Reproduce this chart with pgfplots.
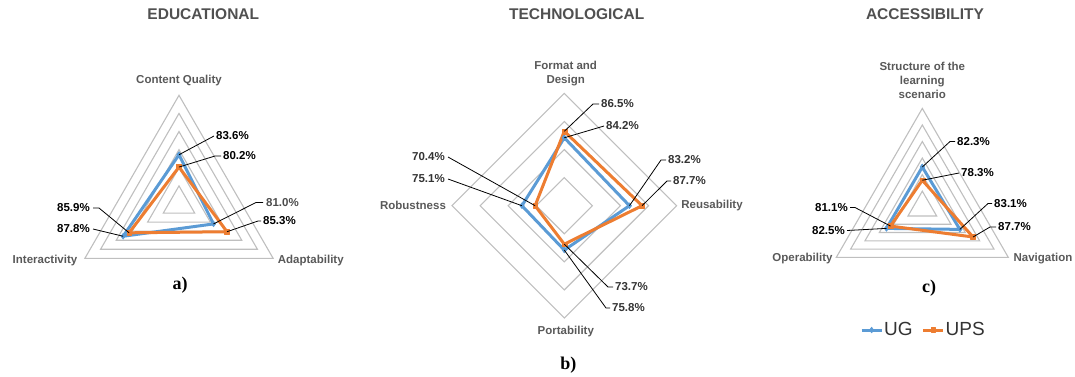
\documentclass[border=0pt]{standalone}
\usepackage{pgfplots}
\pgfplotsset{compat=1.18}
\usepgfplotslibrary{polar}
\usepackage{pgfplotstable}
\usepackage{fontspec}
\setmainfont{Liberation Sans}
\newfontfamily\timesfont{Liberation Serif}
\definecolor{ugc}{HTML}{5B9BD5}
\definecolor{upsc}{HTML}{ED7D31}
\definecolor{gridc}{HTML}{BFBFBF}
\definecolor{labc}{HTML}{595959}

% Educational (scale 70-100, radius = value-70)
\pgfplotstableread{
angle ug ups
90 83.6 80.2
330 81.0 85.3
210 87.8 85.9
90 83.6 80.2
}\edu
% Technological (scale 60-100, radius = value-60)
\pgfplotstableread{
angle ug ups
90 84.2 86.5
0 83.2 87.7
270 75.8 73.7
180 75.1 70.4
90 84.2 86.5
}\tech
% Accessibility (scale 70-100)
\pgfplotstableread{
angle ug ups
90 82.3 78.3
330 83.1 87.7
210 82.5 81.1
90 82.3 78.3
}\acc

\pgfplotsset{
  radar/.style={hide axis, scale only axis, anchor=center, xmin=0, xmax=360, ymin=0, clip=false},
  gridl/.style={gridc, line width=1.1pt, no marks, line join=miter, forget plot},
  ugs/.style={ugc, line width=3pt, line join=round, mark=diamond*, mark size=3pt, mark options={solid, fill=ugc, draw=ugc, line width=0.4pt}},
  upss/.style={upsc, line width=3pt, line join=round, mark=square*, mark size=2.4pt, mark options={solid, fill=upsc, draw=upsc, line width=0.4pt}},
}
\tikzset{
  cat/.style={font=\bfseries\fontsize{11.5}{14}\selectfont, text=labc, align=center, inner sep=0pt},
  val/.style={font=\bfseries\fontsize{11.5}{13}\selectfont, text=black, inner sep=0pt},
  lead/.style={black, line width=0.8pt},
  ttl/.style={font=\bfseries\fontsize{15.5}{18}\selectfont, text=labc!90!black, inner sep=0pt},
  sub/.style={font=\timesfont\bfseries\fontsize{18}{20}\selectfont, inner sep=0pt},
}

\begin{document}
\begin{tikzpicture}
\path[use as bounding box] (0pt,0pt) rectangle (1075pt,-376pt);

% ---------- a) Educational ----------
\begin{polaraxis}[radar, at={(179pt,-204pt)}, width=217.4pt, height=217.4pt, ymax=30]
\pgfplotsinvokeforeach{5,10,15,20,25,30}{
  \addplot[gridl] coordinates {(90,#1) (210,#1) (330,#1) (90,#1) (210,#1)};
}
\addplot[ugs] table[x=angle, y expr=\thisrow{ug}-70] {\edu};
\addplot[upss] table[x=angle, y expr=\thisrow{ups}-70] {\edu};
\coordinate (aq1) at (axis cs:90,13.6);
\coordinate (aq2) at (axis cs:90,10.2);
\coordinate (aa1) at (axis cs:330,11.0);
\coordinate (aa2) at (axis cs:330,15.3);
\coordinate (ai1) at (axis cs:210,17.8);
\coordinate (ai2) at (axis cs:210,15.9);
\end{polaraxis}

% ---------- b) Technological ----------
\begin{polaraxis}[radar, at={(564.3pt,-205.7pt)}, width=224.6pt, height=224.6pt, ymax=40]
\pgfplotsinvokeforeach{10,20,30,40}{
  \addplot[gridl] coordinates {(90,#1) (0,#1) (270,#1) (180,#1) (90,#1) (0,#1)};
}
\addplot[ugs] table[x=angle, y expr=\thisrow{ug}-60] {\tech};
\addplot[upss] table[x=angle, y expr=\thisrow{ups}-60] {\tech};
\coordinate (bf1) at (axis cs:90,24.2);
\coordinate (bf2) at (axis cs:90,26.5);
\coordinate (br1) at (axis cs:0,23.2);
\coordinate (br2) at (axis cs:0,27.7);
\coordinate (bp1) at (axis cs:270,15.8);
\coordinate (bp2) at (axis cs:270,13.7);
\coordinate (bb1) at (axis cs:180,15.1);
\coordinate (bb2) at (axis cs:180,10.4);
\end{polaraxis}

% ---------- c) Accessibility ----------
\begin{polaraxis}[radar, at={(922.3pt,-207.7pt)}, width=198.6pt, height=198.6pt, ymax=30,
  legend columns=2,
  legend style={at={(0.503,-0.116)}, anchor=center, draw=none, fill=none,
    font=\fontsize{19}{21}\selectfont, text=black!80,
    /tikz/every even column/.append style={column sep=8pt},
    inner sep=0pt, nodes={inner sep=1pt}},
  legend image code/.code={
    \draw[#1, mark repeat=2, mark phase=2] plot coordinates {(0pt,0pt) (10pt,0pt) (20pt,0pt)};
  }]
\pgfplotsinvokeforeach{5,10,15,20,25,30}{
  \addplot[gridl] coordinates {(90,#1) (210,#1) (330,#1) (90,#1) (210,#1)};
}
\addplot[ugs] table[x=angle, y expr=\thisrow{ug}-70] {\acc};
\addplot[upss] table[x=angle, y expr=\thisrow{ups}-70] {\acc};
\legend{UG, UPS}
\coordinate (cs1) at (axis cs:90,12.3);
\coordinate (cs2) at (axis cs:90,8.3);
\coordinate (cn1) at (axis cs:330,13.1);
\coordinate (cn2) at (axis cs:330,17.7);
\coordinate (co1) at (axis cs:210,12.5);
\coordinate (co2) at (axis cs:210,11.1);
\end{polaraxis}

\begin{scope}[x=1pt, y=-1pt]
% titles
\node[ttl] at (203.3,14) {EDUCATIONAL};
\node[ttl] at (576.7,14) {TECHNOLOGICAL};
\node[ttl] at (925,14) {ACCESSIBILITY};
% category labels
\node[cat] at (179,81) {Content Quality};
\node[cat] at (45,260.7) {Interactivity};
\node[cat] at (310.8,260.7) {Adaptability};
\node[cat, anchor=center] at (565.7,73.3) {Format and\\Design};
\node[cat] at (413,205.7) {Robustness};
\node[cat] at (712,205.7) {Reusability};
\node[cat] at (565.8,331.7) {Portability};
\node[cat] at (922.3,80.7) {Structure of the\\learning\\scenario};
\node[cat] at (802.5,258.3) {Operability};
\node[cat] at (1043,258.3) {Navigation};
% subcaptions
\node[sub] at (180,285) {a)};
\node[sub] at (568.3,365) {b)};
\node[sub] at (929,288.3) {c)};

% value labels a
\draw[lead] (aq1) -- (214,136);
\node[val, anchor=west] at (216,136) {83.6\%};
\draw[lead] (aq2) -- (215,156) -- (221,156);
\node[val, anchor=west] at (223,156) {80.2\%};
\draw[lead] (aa1) -- (256,202.5) -- (263,202.5);
\node[val, anchor=west, text=black!70] at (266,202.5) {81.0\%};
\draw[lead] (aa2) -- (258,221) -- (261,221);
\node[val, anchor=west] at (263,221) {85.3\%};
\draw[lead] (ai2) -- (99,208) -- (93,208);
\node[val, anchor=east] at (90,208) {85.9\%};
\draw[lead] (ai1) -- (93,229);
\node[val, anchor=east] at (90,229) {87.8\%};

% value labels b
\draw[lead] (bf2) -- (593,104) -- (599,104);
\node[val, anchor=west, text=black!80] at (601,104) {86.5\%};
\draw[lead] (bf1) -- (604,126);
\node[val, anchor=west, text=black!80] at (606,126) {84.2\%};
\draw[lead] (br1) -- (661,160) -- (666,160);
\node[val, anchor=west, text=black!80] at (668,160) {83.2\%};
\draw[lead] (br2) -- (667,181) -- (671,181);
\node[val, anchor=west, text=black!80] at (673,181) {87.7\%};
\draw[lead] (bb2) -- (448,157);
\node[val, anchor=east, text=black!80] at (445,157) {70.4\%};
\draw[lead] (bb1) -- (448,179);
\node[val, anchor=east, text=black!80] at (445,179) {75.1\%};
\draw[lead] (bp2) -- (608,287) -- (613,287);
\node[val, anchor=west, text=black!80] at (615,287) {73.7\%};
\draw[lead] (bp1) -- (606,308) -- (610,308);
\node[val, anchor=west, text=black!80] at (612,308) {75.8\%};

% value labels c
\draw[lead] (cs1) -- (950,141.5) -- (955,141.5);
\node[val, anchor=west] at (957,141.5) {82.3\%};
\draw[lead] (cs2) -- (959,173);
\node[val, anchor=west] at (961,173) {78.3\%};
\draw[lead] (cn1) -- (988,203.5) -- (992,203.5);
\node[val, anchor=west] at (994,203.5) {83.1\%};
\draw[lead] (cn2) -- (990,227) -- (996,227);
\node[val, anchor=west] at (998,227) {87.7\%};
\draw[lead] (co2) -- (855,207.5) -- (850,207.5);
\node[val, anchor=east] at (848,207.5) {81.1\%};
\draw[lead] (co1) -- (847,230.5);
\node[val, anchor=east] at (845,230.5) {82.5\%};
\end{scope}
\end{tikzpicture}
\end{document}
